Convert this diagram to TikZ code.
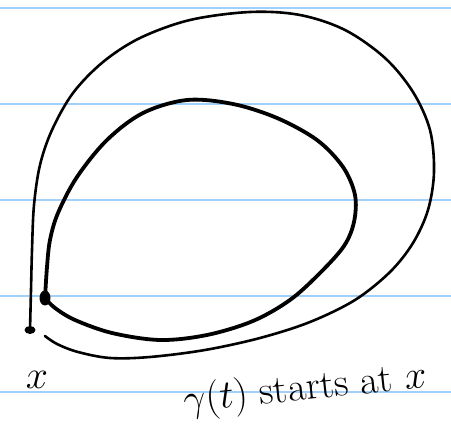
\documentclass[tikz,border=0pt]{standalone}
\definecolor{rulecol}{RGB}{160,208,248}
\begin{document}
\begin{tikzpicture}[x=1pt,y=-1pt,
  ruled/.style={draw=rulecol, line width=1.3pt},
  thinloop/.style={draw=black, line width=2.6pt, line cap=round, line join=round},
  thickloop/.style={draw=black, line width=3.8pt, line cap=round, line join=round},
  hand/.style={font=\Huge, inner sep=0pt, scale=1.6}]
\useasboundingbox[fill=white] (0,0) rectangle (451,443);
% ruled lines
\foreach \yy in {8,104,200,296,392} {\draw[ruled] (0,\yy) -- (451,\yy);}
% points
\coordinate (X) at (30,330);
\coordinate (S) at (45,298);
% outer curve
\draw[thinloop] plot[smooth, tension=0.55] coordinates {(X) (31,290) (32,250) (34,205) (40,165) (52,130) (73,93) (103,62) (140,38) (190,20) (250,12) (300,15) (345,30) (385,58) (413,92) (430,130) (434,172) (428,210) (413,243) (390,272) (355,300) (310,322) (260,338) (205,350) (150,357) (110,358) (78,352) (57,344) (45,336)};
% inner curve
\draw[thickloop] plot[smooth, tension=0.55] coordinates {(S) (47,267) (50,240) (58,213) (77,177) (107,140) (143,113) (187,100) (233,104) (277,118) (317,140) (343,167) (355,195) (354,222) (344,246) (320,273) (290,300) (253,321) (207,335) (160,340) (112,333) (75,320) (55,308) (S)};
% dots
\fill (X) ellipse [x radius=5.5pt, y radius=4pt];
\fill (S) ellipse [x radius=5.5pt, y radius=7.5pt];
% labels
\node[hand] (xlab) at (37,380) {$x$};
\node[hand, rotate=6] (glab) at (305,390) {$\gamma(t)$ starts at $x$};
\end{tikzpicture}
\end{document}
